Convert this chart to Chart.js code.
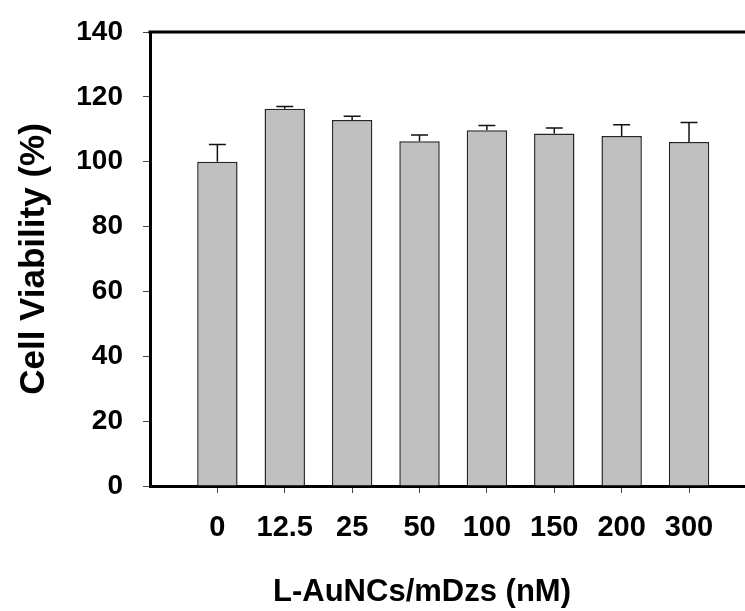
<!DOCTYPE html>
<html>
<head>
<meta charset="utf-8">
<script src="https://cdn.jsdelivr.net/npm/chart.js@4.4.0/dist/chart.umd.min.js"></script>
<style>
  html, body { margin: 0; padding: 0; background: #fff; overflow: hidden; }
</style>
</head>
<body>
<canvas id="viabilityChart" width="844" height="611"></canvas>
<script>
const categories = ['0', '12.5', '25', '50', '100', '150', '200', '300'];
const viability = [100, 116.3, 112.9, 106.3, 109.7, 108.7, 107.9, 106.1];
const viabilityErr = [5.3, 0.7, 1.1, 1.9, 1.5, 1.7, 3.5, 6.0];
const yTicks = [0, 20, 40, 60, 80, 100, 120, 140];

Chart.defaults.font.family = "'Liberation Sans', Arial, sans-serif";
Chart.defaults.font.weight = 'bold';
Chart.defaults.color = '#000';

// upward error bars with caps
const errorBars = {
  id: 'errorBars',
  afterDatasetsDraw(chart) {
    const { ctx, scales: { y } } = chart;
    const meta = chart.getDatasetMeta(0);
    ctx.save();
    ctx.strokeStyle = '#111';
    ctx.lineWidth = 1.5;
    meta.data.forEach((bar, i) => {
      const top = y.getPixelForValue(viability[i] + viabilityErr[i]);
      const half = bar.width * 0.21;
      ctx.beginPath();
      ctx.moveTo(bar.x, bar.y);
      ctx.lineTo(bar.x, top);
      ctx.moveTo(bar.x - half, top);
      ctx.lineTo(bar.x + half, top);
      ctx.stroke();
    });
    ctx.restore();
  }
};

// top frame line
const topFrame = {
  id: 'topFrame',
  afterDraw(chart) {
    const { ctx, chartArea } = chart;
    ctx.save();
    ctx.strokeStyle = '#000';
    ctx.lineWidth = 3;
    ctx.beginPath();
    ctx.moveTo(chartArea.left - 1.5, chartArea.top);
    ctx.lineTo(chartArea.right, chartArea.top);
    ctx.stroke();
    ctx.restore();
  }
};

const ctx = document.getElementById('viabilityChart').getContext('2d');
const viabilityChart = new Chart(ctx, {
  type: 'bar',
  data: {
    datasets: [{
      label: 'Cell Viability',
      data: viability.map((v, i) => ({ x: i + 1, y: v })),
      backgroundColor: '#c0c0c0',
      borderColor: '#262626',
      borderWidth: 1.5,
      barPercentage: 0.6,
      categoryPercentage: 1.0
    }]
  },
  options: {
    responsive: false,
    animation: false,
    layout: { padding: { top: 32, right: 0, bottom: 0, left: 0 } },
    plugins: {
      legend: { display: false },
      tooltip: { enabled: false },
      title: {
        display: true,
        text: 'L-AuNCs/mDzs (nM)',
        position: 'bottom',
        color: '#000',
        font: { size: 31, weight: 'bold' },
        padding: { top: 10, bottom: 0 }
      }
    },
    scales: {
      x: {
        type: 'linear',
        min: 0,
        max: 10.3,
        offset: false,
        afterBuildTicks: axis => { axis.ticks = categories.map((c, i) => ({ value: i + 1 })); },
        ticks: {
          callback: v => categories[v - 1],
          font: { size: 29, weight: 'bold' },
          padding: 18,
          maxRotation: 0,
          autoSkip: false
        },
        grid: { offset: false, drawOnChartArea: false, tickLength: 7, tickColor: '#444', tickWidth: 1 },
        border: { color: '#000', width: 3 }
      },
      y: {
        min: 0,
        max: 140,
        afterBuildTicks: axis => { axis.ticks = yTicks.map(v => ({ value: v })); },
        afterFit: axis => { axis.width = 150; },
        ticks: { font: { size: 28, weight: 'bold', lineHeight: 0.8 }, padding: 20 },
        grid: { drawOnChartArea: false, tickLength: 7, tickColor: '#444', tickWidth: 1 },
        border: { color: '#000', width: 3 },
        title: {
          display: true,
          text: 'Cell Viability (%)',
          font: { size: 35, weight: 'bold' },
          padding: { top: 13, bottom: 0 }
        }
      }
    }
  },
  plugins: [errorBars, topFrame]
});
</script>
</body>
</html>
